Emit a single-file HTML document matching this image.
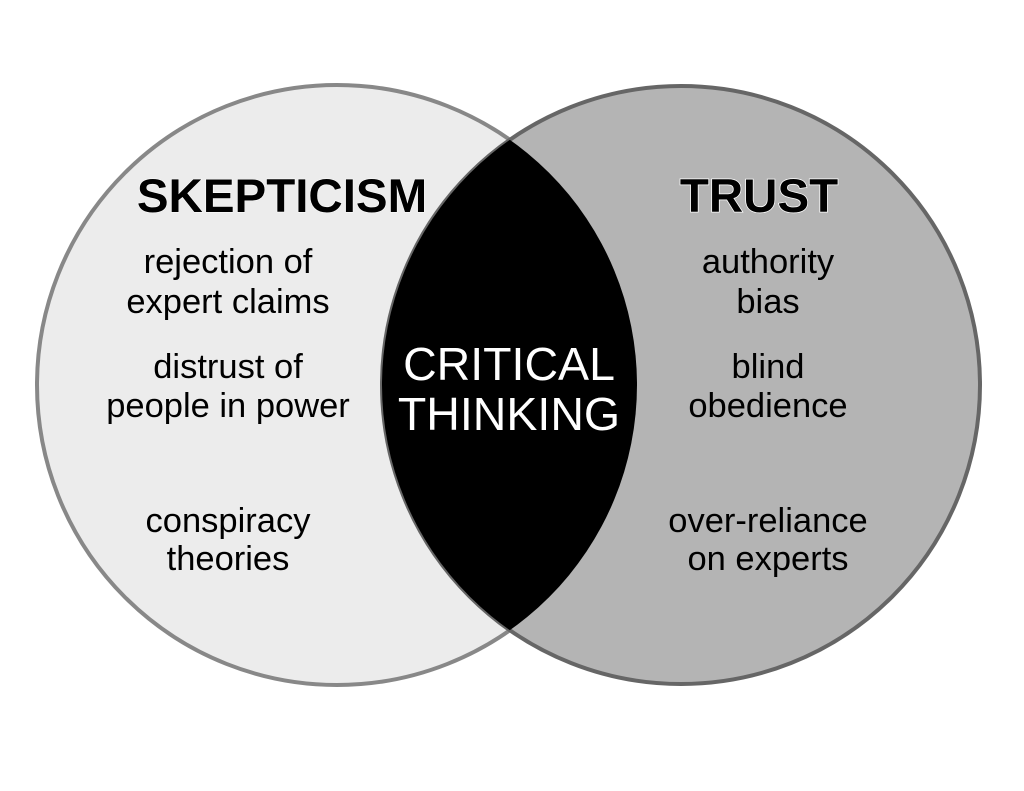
<!DOCTYPE html>
<html><head><meta charset="utf-8"><style>
html,body{margin:0;padding:0;background:#fff;width:1024px;height:791px;overflow:hidden}
</style></head><body>
<svg width="1024" height="791" viewBox="0 0 1024 791" xmlns="http://www.w3.org/2000/svg" font-family="Liberation Sans, Arial, sans-serif">
<defs>
<clipPath id="cl"><circle cx="337" cy="385" r="300"/></clipPath>
</defs>
<circle cx="337" cy="385" r="300" fill="#ececec" stroke="#888" stroke-width="4"/>
<circle cx="681" cy="385" r="299" fill="#b4b4b4" stroke="#666" stroke-width="4"/>
<circle cx="681" cy="385" r="299" fill="#000" clip-path="url(#cl)"/>
<g text-anchor="middle" fill="#000">
<text x="282" y="212" font-size="47.5" font-weight="bold" stroke="#fff" stroke-width="1" paint-order="stroke">SKEPTICISM</text>
<text x="759" y="212" font-size="47.5" font-weight="bold" stroke="#fff" stroke-width="1.5" paint-order="stroke">TRUST</text>
<g font-size="34.5">
<text x="228" y="273">rejection of</text>
<text x="228" y="313">expert claims</text>
<text x="228" y="378">distrust of</text>
<text x="228" y="417">people in power</text>
<text x="228" y="532">conspiracy</text>
<text x="228" y="570">theories</text>
<text x="768" y="273">authority</text>
<text x="768" y="313">bias</text>
<text x="768" y="378">blind</text>
<text x="768" y="417">obedience</text>
<text x="768" y="532">over-reliance</text>
<text x="768" y="570">on experts</text>
</g>
<g font-size="46.5" fill="#fff">
<text x="509" y="380">CRITICAL</text>
<text x="509" y="430">THINKING</text>
</g>
</g>
</svg>
</body></html>
